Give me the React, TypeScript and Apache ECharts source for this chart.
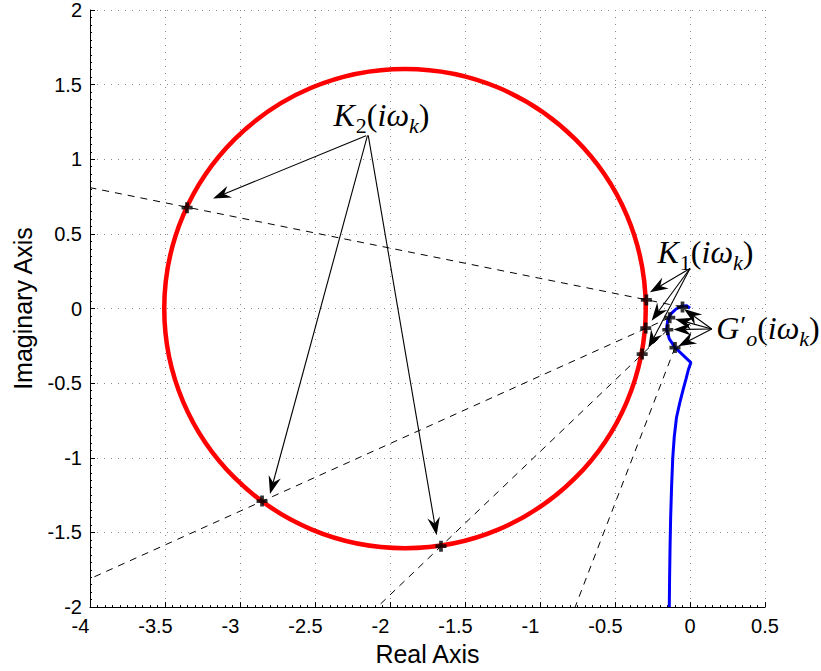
import React, { useEffect, useRef } from 'react';
import * as echarts from 'echarts';

// ---- data ----
const circle = [[-1.9, 0, 1.605]]; // centre x, centre y, radius
const blueCurve = [
  [-0.138, -2.0], [-0.136, -1.8], [-0.133, -1.6], [-0.129, -1.4], [-0.123, -1.2],
  [-0.115, -1.0], [-0.105, -0.86], [-0.09, -0.73], [-0.068, -0.63], [-0.045, -0.54],
  [-0.026, -0.47], [-0.011, -0.41], [0.006, -0.362], [-0.1, -0.261], [-0.138, -0.203],
  [-0.156, -0.137], [-0.149, -0.081], [-0.129, -0.037], [-0.093, -0.003], [-0.056, 0.015],
  [-0.022, 0.019], [0.0, 0.002],
];
const k2Points = [[-3.353, 0.676], [-2.853, -1.29], [-1.66, -1.592]];
const k1Points = [[-0.291, 0.058], [-0.295, -0.131], [-0.319, -0.305]];
const gPoints = [[-0.05, 0.01], [-0.135, -0.061], [-0.148, -0.142], [-0.1, -0.261]];
const dashedEnds = [[-4, 0.81], [-4, -1.81], [-2.085, -2], [-0.766, -2]];
const k2Arrows = [
  [-2.16, 1.157, -3.18, 0.737],
  [-2.15, 1.16, -2.8, -1.243],
  [-2.145, 1.16, -1.689, -1.519],
];
const k1Arrows = [
  [0.0, 0.268, -0.267, 0.11],
  [0.0, 0.268, -0.256, -0.081],
  [0.0, 0.268, -0.278, -0.265],
];
const gArrows = [
  [0.145, -0.137, -0.04, -0.003],
  [0.145, -0.137, -0.1, -0.07],
  [0.145, -0.137, -0.111, -0.141],
  [0.145, -0.137, -0.078, -0.252],
];
const labelAnchors = [[-2.057, 1.281], [0.103, 0.365], [0.52, -0.146]];
const labelTexts = [
  '{it|K}{sd|2}{n|(}{it|iω}{si|k}{n|)}',
  '{it|K}{sd|1}{n|(}{it|iω}{si|k}{n|)}',
  '{it|G}{pr|′}{si|o}{n|(}{it|iω}{si|k}{n|)}',
];
const xName = 'Real Axis';
const yName = 'Imaginary Axis';

const SANS = 'Liberation Sans, Arial, Helvetica, sans-serif';
const SERIF = 'Liberation Serif, Times New Roman, serif';

const mathRich: any = {
  it: { fontFamily: SERIF, fontStyle: 'italic', fontSize: 32, lineHeight: 36, verticalAlign: 'top', fill: '#000', color: '#000' },
  n: { fontFamily: SERIF, fontSize: 32, lineHeight: 36, verticalAlign: 'top', fill: '#000', color: '#000' },
  sd: { fontFamily: SERIF, fontSize: 22, lineHeight: 22, padding: [15, 0, 0, 1], verticalAlign: 'top', fill: '#000', color: '#000' },
  si: { fontFamily: SERIF, fontStyle: 'italic', fontSize: 22, lineHeight: 22, padding: [15, 0, 0, 0], verticalAlign: 'top', fill: '#000', color: '#000' },
  pr: { fontFamily: SERIF, fontSize: 26, lineHeight: 22, padding: [0, 0, 0, 1], verticalAlign: 'top', fill: '#000', color: '#000' },
};

function arrowRender(params: any, api: any) {
  const a = api.coord([api.value(0), api.value(1)]);
  const b = api.coord([api.value(2), api.value(3)]);
  const dx = b[0] - a[0];
  const dy = b[1] - a[1];
  const len = Math.hypot(dx, dy) || 1;
  const ux = dx / len;
  const uy = dy / len;
  const L = 18, W = 6.3, N = 12;
  const bx = b[0] - ux * L, by = b[1] - uy * L;
  const nx = b[0] - ux * N, ny = b[1] - uy * N;
  return {
    type: 'group',
    children: [
      { type: 'line', shape: { x1: a[0], y1: a[1], x2: nx, y2: ny }, style: { stroke: '#000', lineWidth: 1.1 } },
      {
        type: 'polygon',
        shape: { points: [[b[0], b[1]], [bx - uy * W, by + ux * W], [nx, ny], [bx + uy * W, by - ux * W]] },
        style: { fill: '#000', stroke: 'none' },
      },
    ],
  };
}

const plusSymbol = 'path://M3.3,0H6.7V3.3H10V6.7H6.7V10H3.3V6.7H0V3.3H3.3Z';

function buildOption(): any {
  const dashedSeries = gPoints.map((p, i) => ({
    type: 'line',
    data: [p, dashedEnds[i]],
    symbol: 'none',
    silent: true,
    z: 4,
    lineStyle: { color: '#000', width: 1, type: [7, 6] },
  }));
  const axisCommon = {
    type: 'value',
    interval: 0.5,
    axisLine: { show: true, onZero: false, lineStyle: { color: '#000', width: 1 } },
    axisTick: { show: true, inside: true, length: 5, lineStyle: { color: '#000', width: 1 } },
    minorTick: { show: true, splitNumber: 10, length: 2, lineStyle: { color: '#000', width: 1 } },
    splitLine: { show: true, lineStyle: { color: '#888', width: 1, type: [1, 6] } },
    nameLocation: 'middle',
    nameTextStyle: { fontSize: 25, color: '#000', fontFamily: SANS },
  };
  return {
    animation: false,
    backgroundColor: '#fff',
    grid: { left: 90, top: 9.5, width: 675, height: 600, containLabel: false },
    xAxis: {
      ...axisCommon,
      min: -4,
      max: 0.5,
      name: xName,
      nameGap: 31,
      axisLabel: {
        margin: 9,
        color: '#000',
        fontSize: 20,
        fontFamily: SANS,
        formatter: (v: number) => (v < 0 ? `{neg|${v}}` : `{pos|${v}}`),
        rich: {
          neg: { fontSize: 20, fontFamily: SANS, color: '#000', padding: [0, 19, 0, 0] },
          pos: { fontSize: 20, fontFamily: SANS, color: '#000' },
        },
      },
    },
    yAxis: {
      ...axisCommon,
      min: -2,
      max: 2,
      name: yName,
      nameGap: 55,
      axisLabel: { margin: 8, color: '#000', fontSize: 20, fontFamily: SANS },
    },
    series: [
      {
        type: 'custom',
        data: circle,
        z: 2,
        silent: true,
        renderItem: (params: any, api: any) => {
          const c = api.coord([api.value(0), api.value(1)]);
          const rx = api.size([api.value(2), 0])[0];
          const ry = api.size([0, api.value(2)])[1];
          return {
            type: 'ellipse',
            shape: { cx: c[0], cy: c[1], rx, ry },
            style: { fill: 'none', stroke: '#ff0000', lineWidth: 4.5 },
          };
        },
      },
      {
        type: 'line',
        data: blueCurve,
        symbol: 'none',
        z: 3,
        silent: true,
        lineStyle: { color: '#0000ff', width: 3 },
      },
      ...dashedSeries,
      {
        type: 'scatter',
        data: [...k2Points, ...k1Points, ...gPoints],
        symbol: plusSymbol,
        symbolSize: 11,
        z: 5,
        silent: true,
        itemStyle: { color: '#000' },
      },
      {
        type: 'custom',
        data: [...k2Arrows, ...k1Arrows, ...gArrows],
        z: 6,
        silent: true,
        renderItem: arrowRender,
      },
      {
        type: 'custom',
        data: labelAnchors,
        z: 7,
        silent: true,
        clip: false,
        renderItem: (params: any, api: any) => {
          const p = api.coord([api.value(0), api.value(1)]);
          return {
            type: 'text',
            x: p[0],
            y: p[1],
            style: {
              text: labelTexts[params.dataIndex],
              rich: mathRich,
              align: 'center',
              verticalAlign: 'middle',
              fontFamily: SERIF,
              fontSize: 32,
              fill: '#000',
            },
          };
        },
      },
    ],
  };
}

export default function App() {
  const ref = useRef<HTMLDivElement>(null);
  useEffect(() => {
    document.body.style.margin = '0';
    const chart = echarts.init(ref.current!, null, { renderer: 'svg' });
    chart.setOption(buildOption());
    return () => chart.dispose();
  }, []);
  return <div ref={ref} style={{ width: 821, height: 671 }} />;
}
